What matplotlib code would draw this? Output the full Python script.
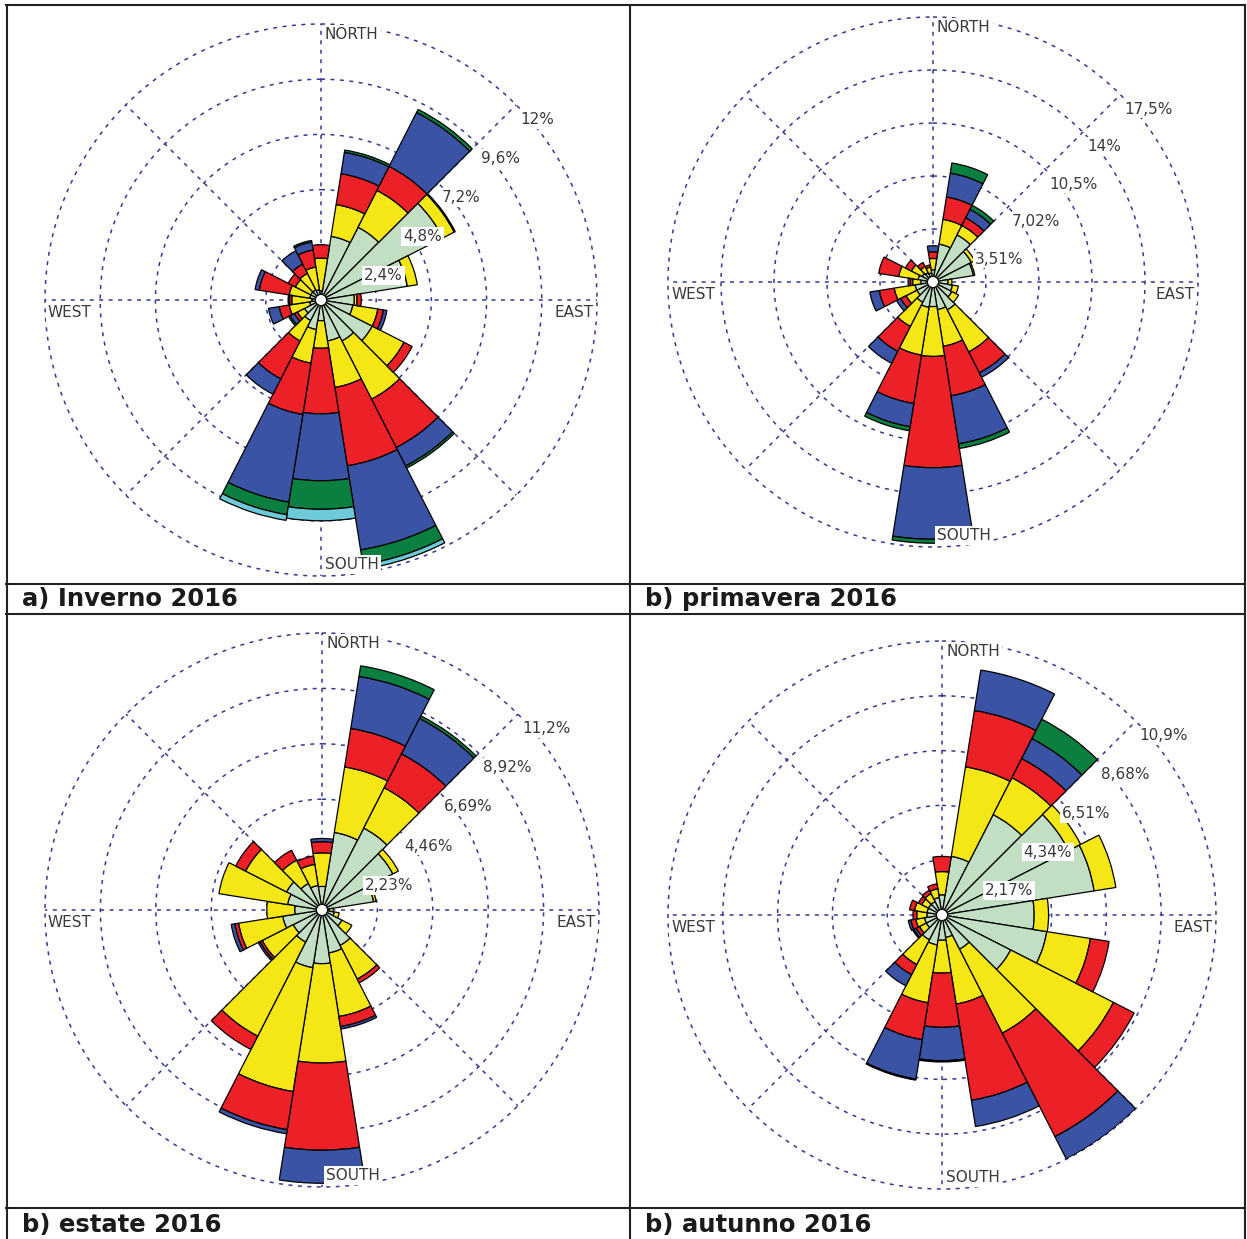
import numpy as np
import matplotlib.pyplot as plt
from matplotlib.lines import Line2D
from matplotlib.patches import Circle

W, H = 1247, 1239

# 20 sectors of 18 degrees, clockwise from north
directions = np.arange(20) * 18.0

class_colors = ['#C2DEC3', '#F5E615', '#EC2027', '#3A53A4', '#0A7F3F', '#6CCAD9']

# stacked frequencies (%) per speed class, one row per class
inverno = [
    [0.4, 2.8, 3.55, 5.95, 3.8, 1.45, 1.4, 2.5, 2.0, 1.8, 0.9, 1.3, 1.0, 0.8, 0.5, 0.4, 0.5, 0.5, 0.5, 0.45],
    [1.42, 1.4, 1.8, 0.55, 0.44, 0.12, 1.1, 1.55, 2.84, 2.05, 1.2, 1.48, 1.0, 0.35, 0.9, 0.87, 0.9, 0.75, 0.8, 1.0],
    [0.58, 1.36, 1.17, 0.05, 0, 0.18, 0.25, 0.4, 2.36, 3.45, 2.85, 2.26, 1.85, 0.15, 0.44, 0.1, 1.32, 0.35, 0.45, 0.75],
    [0, 0.94, 2.63, 0, 0, 0, 0.15, 0, 0.9, 3.7, 2.91, 3.86, 0.75, 0.2, 0.47, 0.06, 0.18, 0, 0.65, 0.35],
    [0, 0.1, 0.15, 0, 0, 0, 0, 0, 0.1, 0.65, 1.24, 0.55, 0, 0.08, 0, 0, 0, 0, 0, 0.07],
    [0, 0, 0, 0, 0, 0, 0, 0, 0, 0.2, 0.5, 0.25, 0, 0, 0, 0, 0, 0, 0, 0],
]
primavera = [
    [0.8, 2.54, 3.5, 2.85, 2.7, 1.0, 1.3, 1.4, 2.07, 1.85, 1.63, 1.7, 1.5, 1.2, 1.2, 0.8, 1.0, 0.8, 0.7, 0.6],
    [0.76, 1.66, 0.7, 0.25, 0.1, 0.25, 0.4, 0.5, 3.13, 2.46, 3.3, 3.2, 1.8, 0.8, 1.4, 0.55, 1.3, 0.8, 0.45, 0.4],
    [0.44, 1.5, 0.57, 0, 0, 0, 0, 0, 1.55, 3.32, 7.37, 3.25, 1.85, 0.4, 1.0, 0.15, 1.34, 0.45, 0.3, 0.15],
    [0.4, 1.6, 0.63, 0, 0, 0, 0, 0, 0.33, 3.22, 4.74, 1.55, 0.89, 0.3, 0.63, 0.15, 0, 0, 0, 0],
    [0, 0.68, 0.3, 0, 0, 0, 0, 0, 0, 0.31, 0.26, 0.27, 0, 0, 0, 0, 0, 0, 0, 0],
    [0] * 20,
]
estate = [
    [0.95, 3.16, 3.7, 3.2, 2.1, 0.3, 0.5, 0.9, 1.6, 1.75, 2.16, 2.35, 1.45, 1.3, 1.6, 1.1, 1.4, 1.6, 1.2, 1.0],
    [1.35, 2.67, 1.82, 0.25, 0.1, 0.15, 0.2, 0.45, 1.52, 2.59, 4.0, 5.05, 4.25, 1.4, 1.8, 1.12, 2.8, 1.85, 1.05, 0.86],
    [0.45, 1.57, 1.53, 0, 0, 0, 0, 0, 0.17, 0.41, 3.51, 1.55, 0.6, 0.1, 0.15, 0, 0, 0.45, 0.45, 0.34],
    [0.13, 2.12, 1.6, 0, 0, 0, 0, 0, 0, 0.1, 1.33, 0.17, 0, 0.08, 0.15, 0, 0, 0, 0, 0],
    [0, 0.43, 0.12, 0, 0, 0, 0, 0, 0, 0, 0, 0, 0, 0, 0, 0, 0, 0, 0, 0],
    [0] * 20,
]
autunno = [
    [0.8, 2.35, 4.46, 5.63, 6.1, 3.65, 4.2, 3.05, 1.52, 0.9, 1.0, 1.2, 1.1, 0.7, 0.7, 0.6, 0.6, 0.6, 0.6, 0.7],
    [0.92, 3.59, 1.64, 0.53, 0.87, 0.57, 1.75, 4.57, 3.73, 2.67, 1.3, 2.32, 1.1, 0.3, 0.35, 0.4, 0.5, 0.3, 0.35, 0.35],
    [0.6, 2.26, 0.85, 0, 0, 0, 0.75, 0.92, 4.6, 3.86, 2.15, 1.48, 0.45, 0.15, 0.2, 0.15, 0.2, 0.15, 0.15, 0.2],
    [0, 1.62, 0.89, 0, 0, 0, 0, 0, 0.99, 1.05, 1.32, 1.58, 0.5, 0.1, 0.1, 0, 0, 0, 0, 0],
    [0, 0, 0.86, 0, 0, 0, 0, 0, 0, 0, 0.05, 0.04, 0, 0.05, 0, 0, 0, 0, 0, 0],
    [0] * 20,
]

ring_steps = [2.4, 3.51, 2.23, 2.17]
ring_labels = [
    ['2,4%', '4,8%', '7,2%', '9,6%', '12%'],
    ['3,51%', '7,02%', '10,5%', '14%', '17,5%'],
    ['2,23%', '4,46%', '6,69%', '8,92%', '11,2%'],
    ['2,17%', '4,34%', '6,51%', '8,68%', '10,9%'],
]
captions = ['a) Inverno 2016', 'b) primavera 2016', 'b) estate 2016', 'b) autunno 2016']

# pixel centre and outer ring radius of each rose
centers = [(321, 300), (933, 282), (322, 910), (942, 915)]
radii = [276, 265, 277, 274]
caption_pos = [(22, 599), (645, 599), (22, 1225), (645, 1225)]

fig = plt.figure(figsize=(W / 100, H / 100), dpi=100)
grid_col = '#343894'
txt_col = '#3a3a3a'
box = dict(boxstyle='square,pad=0.12', fc='white', ec='none')

for season, step, labels, (cx, cy), R in zip(
        [inverno, primavera, estate, autunno], ring_steps, ring_labels, centers, radii):
    ax = fig.add_axes([(cx - R) / W, 1 - (cy + R) / H, 2 * R / W, 2 * R / H], projection='polar')
    ax.set_theta_zero_location('N')
    ax.set_theta_direction(-1)
    rmax = 5 * step
    ax.set_ylim(0, rmax)
    ax.set_axis_off()

    # dashed rings and spokes
    tt = np.linspace(0, 2 * np.pi, 500)
    for i in range(1, 6):
        ax.plot(tt, np.full_like(tt, i * step), color=grid_col, lw=1.1,
                dashes=(2.6, 3.6), zorder=1, clip_on=False)
    for a in np.deg2rad(np.arange(0, 360, 45)):
        ax.plot([a, a], [0, rmax], color=grid_col, lw=1.1, dashes=(2.6, 3.6), zorder=1, clip_on=False)

    theta = np.deg2rad(directions)
    bottom = np.zeros(20)
    for vals, col in zip(season, class_colors):
        vals = np.array(vals, dtype=float)
        m = vals > 0
        ax.bar(theta[m], vals[m], width=np.deg2rad(18), bottom=bottom[m], color=col,
               edgecolor='black', linewidth=0.9, zorder=2, align='center')
        bottom += vals

    ax.add_artist(Circle((0.5, 0.5), 5.5 / (2 * R), transform=ax.transAxes,
                         fc='white', ec='black', lw=0.7, zorder=3))

    for i, lab in enumerate(labels):
        ax.annotate(lab, xy=(np.pi / 4, (i + 1) * step), xytext=(4, -7),
                    textcoords='offset pixels', ha='left', va='top', fontsize=11,
                    color=txt_col, bbox=box, zorder=4, annotation_clip=False)

    compass = [('NORTH', 0, (4, -3), 'left', 'top'),
               ('EAST', np.pi / 2, (-3, -5), 'right', 'top'),
               ('SOUTH', np.pi, (4, 4), 'left', 'bottom'),
               ('WEST', 1.5 * np.pi, (3, -5), 'left', 'top')]
    for name, a, off, ha, va in compass:
        ax.annotate(name, xy=(a, rmax), xytext=off, textcoords='offset pixels',
                    ha=ha, va=va, fontsize=11, color=txt_col, bbox=box, zorder=4,
                    annotation_clip=False)

for cap, (x, y) in zip(captions, caption_pos):
    fig.text(x / W, 1 - y / H, cap, fontsize=17.5, fontweight='bold', color='#1a1a1a',
             ha='left', va='center')

# table borders
def hline(y, x0=6, x1=1245):
    fig.add_artist(Line2D([x0 / W, x1 / W], [1 - y / H, 1 - y / H], color='#222222', lw=1.5))

def vline(x, y0=5, y1=1239):
    fig.add_artist(Line2D([x / W, x / W], [1 - y0 / H, 1 - y1 / H], color='#222222', lw=1.5))

for y in [5, 584, 614, 1208]:
    hline(y)
for x in [7, 630, 1245]:
    vline(x)

fig.savefig('out.png', dpi=100, facecolor='white')
